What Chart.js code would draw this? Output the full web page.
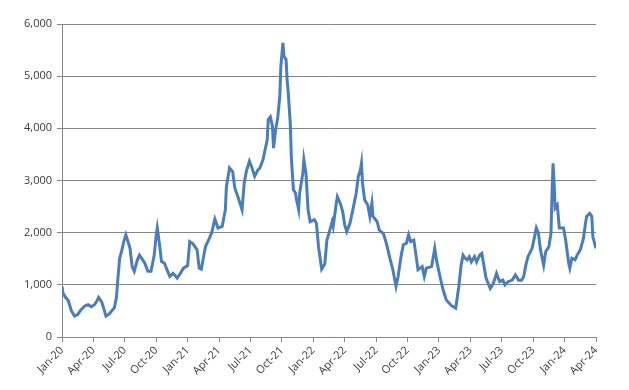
<!DOCTYPE html>
<html lang="en">

<head>
  <meta charset="UTF-8">
  <title>Chart</title>
  <script src="https://cdn.jsdelivr.net/npm/chart.js@4.4.0/dist/chart.umd.min.js"></script>
  <style>
    html, body { margin: 0; padding: 0; background: #fff; }
    #wrap { width: 629px; height: 390px; }
  </style>
</head>

<body>
  <div id="wrap"><canvas id="myChart"></canvas></div>

  <script>
    // quarter labels on the x axis (one every 3 months from Jan-20)
    const quarterLabels = ["Jan-20", "Apr-20", "Jul-20", "Oct-20", "Jan-21", "Apr-21", "Jul-21", "Oct-21",
      "Jan-22", "Apr-22", "Jul-22", "Oct-22", "Jan-23", "Apr-23", "Jul-23", "Oct-23", "Jan-24", "Apr-24"];

    // position in months since Jan-20
    const months = [0.0, 0.1, 0.3, 0.6, 0.9, 1.2, 1.5, 1.8, 2.2, 2.5, 2.8, 3.1, 3.3, 3.5, 3.8, 4.0, 4.2, 4.5, 4.7, 5.0,
      5.2, 5.3, 5.5, 5.7, 5.9, 6.1, 6.3, 6.5, 6.7, 6.9, 7.2, 7.4, 7.7, 7.9, 8.2, 8.5, 8.8, 9.0, 9.1, 9.3,
      9.5, 9.8, 10.0, 10.3, 10.6, 11.0, 11.3, 11.6, 12.0, 12.2, 12.5, 12.9, 13.1, 13.3, 13.7, 14.0, 14.3, 14.6, 14.9, 15.3,
      15.6, 15.7, 16.0, 16.3, 16.5, 16.8, 17.2, 17.4, 17.6, 17.9, 18.1, 18.4, 18.7, 18.9, 19.2, 19.6, 19.7, 19.9, 20.1, 20.2,
      20.4, 20.6, 20.8, 20.9, 21.1, 21.2, 21.4, 21.5, 21.6, 21.8, 21.9, 22.1, 22.3, 22.4, 22.6, 22.7, 23.0, 23.1, 23.3, 23.5,
      23.7, 24.1, 24.3, 24.5, 24.8, 25.1, 25.3, 25.5, 25.8, 25.9, 26.2, 26.3, 26.6, 26.8, 27.0, 27.2, 27.5, 27.8, 28.1, 28.3,
      28.5, 28.6, 28.7, 28.9, 29.2, 29.4, 29.6, 29.7, 30.1, 30.3, 30.7, 31.0, 31.3, 31.6, 31.9, 32.1, 32.4, 32.6, 32.9, 33.1,
      33.3, 33.6, 33.9, 34.0, 34.4, 34.6, 34.8, 35.3, 35.6, 35.8, 36.1, 36.4, 36.7, 37.2, 37.6, 37.9, 38.1, 38.3, 38.5, 38.7,
      38.9, 39.1, 39.4, 39.6, 39.9, 40.1, 40.2, 40.5, 40.9, 41.2, 41.5, 41.8, 42.1, 42.3, 42.6, 43.0, 43.3, 43.6, 43.9, 44.1,
      44.3, 44.5, 44.9, 45.1, 45.3, 45.5, 45.7, 46.0, 46.2, 46.5, 46.7, 46.8, 46.9, 47.0, 47.1, 47.3, 47.5, 47.9, 48.1, 48.4,
      48.5, 48.7, 49.0, 49.2, 49.5, 49.8, 50.0, 50.1, 50.4, 50.6, 50.7, 51.0];

    const values = [970, 840, 770, 700, 500, 400, 430, 520, 600, 620, 580, 620, 680, 760, 670, 540, 400, 440, 490, 560,
      760, 1030, 1500, 1650, 1830, 1960, 1830, 1700, 1350, 1260, 1480, 1570, 1480, 1420, 1260, 1260, 1560, 1950, 2090, 1800,
      1450, 1410, 1300, 1160, 1220, 1130, 1220, 1320, 1370, 1830, 1790, 1670, 1320, 1300, 1730, 1860, 2000, 2260, 2090, 2120,
      2440, 2880, 3240, 3170, 2860, 2690, 2440, 2950, 3170, 3370, 3270, 3080, 3200, 3240, 3400, 3780, 4170, 4220, 4040, 3620,
      3970, 4200, 4610, 5190, 5640, 5380, 5320, 4930, 4710, 4100, 3460, 2820, 2760, 2630, 2440, 2760, 3140, 3400, 3140, 2440,
      2210, 2250, 2180, 1730, 1300, 1400, 1860, 1990, 2210, 2120, 2570, 2690, 2550, 2410, 2150, 2020, 2180, 2460, 2760, 3080,
      3200, 3330, 2950, 2630, 2530, 2310, 2570, 2310, 2210, 2050, 1980, 1780, 1520, 1290, 970, 1160, 1570, 1770, 1800, 1960,
      1830, 1860, 1440, 1290, 1350, 1160, 1320, 1350, 1700, 1440, 1160, 900, 710, 600, 550, 970, 1350, 1570, 1510, 1480,
      1540, 1440, 1540, 1440, 1570, 1600, 1480, 1130, 930, 1030, 1220, 1060, 1090, 1000, 1060, 1090, 1190, 1090, 1090, 1160,
      1380, 1540, 1700, 1890, 2090, 1990, 1670, 1380, 1640, 1730, 1990, 2760, 3330, 2950, 2470, 2530, 2090, 2090, 1860, 1410,
      1320, 1510, 1480, 1570, 1670, 1890, 2180, 2310, 2370, 2310, 1920, 1700];

    const yTicks = [0, 1000, 2000, 3000, 4000, 5000, 6000];

    const points = months.map((m, i) => ({ x: m, y: values[i] }));
    const axisGrey = "#868686";
    const textGrey = "#3a3a3a";

    let ctx = document.getElementById('myChart').getContext('2d');
    let myChart = new Chart(ctx, {
      type: 'line',
      data: {
        datasets: [{
          data: points,
          borderColor: "#4a7ebb",
          borderWidth: 3,
          pointRadius: 0,
          tension: 0,
          fill: false
        }]
      },
      options: {
        responsive: true,
        maintainAspectRatio: false,
        animation: false,
        layout: { padding: { top: 24, right: 33, left: 0, bottom: 0 } },
        plugins: { legend: { display: false }, tooltip: { enabled: false } },
        scales: {
          x: {
            type: 'linear',
            min: 0,
            max: 51,
            afterBuildTicks: (scale) => {
              scale.ticks = quarterLabels.map((_, i) => ({ value: i * 3 }));
            },
            afterFit: (scale) => { scale.height = 53; },
            grid: { drawOnChartArea: false, drawTicks: true, tickLength: 5, color: axisGrey },
            border: { color: axisGrey },
            ticks: {
              minRotation: 45,
              maxRotation: 45,
              padding: 2,
              color: textGrey,
              font: { family: "'Open Sans', sans-serif", size: 11 },
              callback: (v) => quarterLabels[Math.round(v / 3)]
            }
          },
          y: {
            min: 0,
            max: 6000,
            afterBuildTicks: (scale) => {
              scale.ticks = yTicks.map(v => ({ value: v }));
            },
            afterFit: (scale) => { scale.width = 62; },
            grid: { color: axisGrey, tickLength: 5 },
            border: { color: axisGrey },
            ticks: {
              padding: 5,
              color: textGrey,
              font: { family: "'Open Sans', sans-serif", size: 11 },
              callback: (v) => v.toLocaleString('en-US')
            }
          }
        }
      }
    });
  </script>

</body>

</html>
